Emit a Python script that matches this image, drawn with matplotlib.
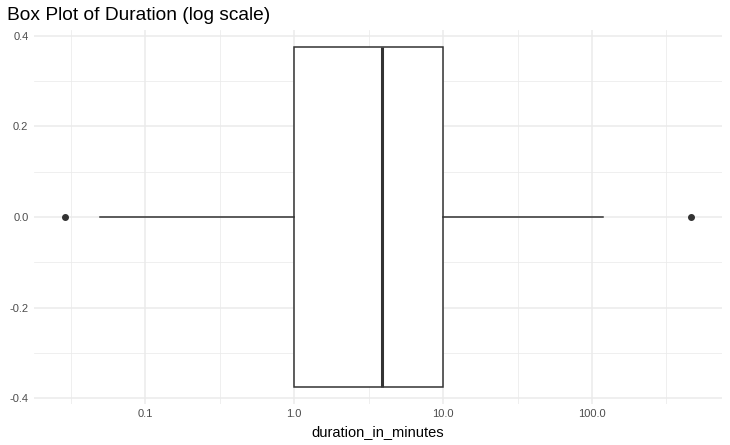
import matplotlib
matplotlib.use("Agg")
import matplotlib.pyplot as plt
import numpy as np

# Box plot summary
whisker_low = 0.05
q1 = 1.0
median = 3.9
q3 = 10.0
whisker_high = 118.0
outliers = [0.029, 460.0]

x_ticks = [0.1, 1.0, 10.0, 100.0]
x_tick_labels = ["0.1", "1.0", "10.0", "100.0"]
y_ticks = [-0.4, -0.2, 0.0, 0.2, 0.4]
y_tick_labels = ["-0.4", "-0.2", "0.0", "0.2", "0.4"]

plt.rcParams['font.family'] = ['Liberation Sans', 'DejaVu Sans']

fig = plt.figure(figsize=(7.3, 4.45), dpi=100)
W, H = 730, 445
left, right, top, bottom = 34, 722, 30.3, 403.7
ax = fig.add_axes([left / W, 1 - bottom / H, (right - left) / W, (bottom - top) / H])

line_col = "#333333"
stats = [dict(whislo=whisker_low, q1=q1, med=median, q3=q3, whishi=whisker_high,
              fliers=outliers)]
ax.bxp(stats, positions=[0], widths=0.75, vert=False, showcaps=False,
       patch_artist=True,
       boxprops=dict(facecolor="white", edgecolor=line_col, linewidth=1.1),
       medianprops=dict(color=line_col, linewidth=2.2, solid_capstyle="butt"),
       whiskerprops=dict(color=line_col, linewidth=1.1),
       flierprops=dict(marker="o", markerfacecolor=line_col, markeredgecolor=line_col,
                       markersize=4.0, linestyle="none"),
       zorder=3)

ax.set_xscale("log")
lo = np.log10(min(outliers))
hi = np.log10(max(outliers))
pad = (hi - lo) * 0.05
ax.set_xlim(10 ** (lo - pad), 10 ** (hi + pad))
ax.set_ylim(-0.4125, 0.4125)

ax.set_xticks(x_ticks)
ax.set_xticklabels(x_tick_labels)
minor_x = [10 ** (np.log10(v) + 0.5) for v in [0.01] + x_ticks]
ax.set_xticks(minor_x, minor=True)
ax.set_yticks(y_ticks)
ax.set_yticklabels(y_tick_labels)
ax.set_yticks([-0.3, -0.1, 0.1, 0.3], minor=True)

ax.grid(True, which="major", color="#EBEBEB", linewidth=1.1, zorder=0)
ax.grid(True, which="minor", color="#EBEBEB", linewidth=0.55, zorder=0)
ax.set_axisbelow(True)
for s in ax.spines.values():
    s.set_visible(False)
ax.tick_params(which="both", length=0)
ax.tick_params(axis="both", labelsize=8, labelcolor="#4D4D4D", pad=4)
ax.set_xlabel("duration_in_minutes", fontsize=10.5, color="black", labelpad=4)
ax.set_ylabel("")

fig.text(7 / W, 1 - 15 / H, "Box Plot of Duration (log scale)", fontsize=13.8,
         ha="left", va="center", color="black")

fig.savefig("out.png", dpi=100)
